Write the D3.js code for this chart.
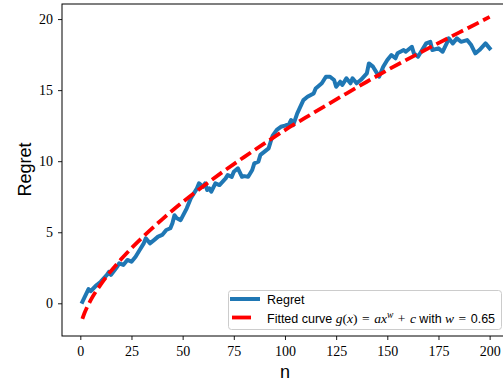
<!DOCTYPE html>
<html>
<head>
<meta charset="utf-8">
<script src="https://cdn.jsdelivr.net/npm/d3@7"></script>
<style>
  html, body { margin: 0; padding: 0; background: #fff; overflow: hidden; }
  svg { display: block; }
</style>
</head>
<body>
<div id="chart"></div>
<script>
// --- Data ---
const regretN = [1, 4, 5, 8, 10, 13, 14, 15, 18, 19, 21, 23, 25, 27, 29, 31, 32, 34, 36, 38,
  40, 42, 44, 45, 46, 47, 49, 52, 54, 57, 58, 60, 61, 62, 63, 64, 66, 68, 71, 72,
  74, 75, 77, 79, 80, 82, 84, 85, 87, 88, 90, 92, 93, 94, 96, 98, 100, 102, 103, 104,
  106, 109, 111, 114, 115, 118, 120, 122, 124, 125, 127, 128, 130, 132, 133, 135, 137, 140, 141, 143,
  145, 146, 148, 150, 152, 154, 155, 158, 159, 162, 163, 165, 167, 169, 171, 172, 175, 177, 179, 180,
  182, 184, 186, 189, 191, 193, 195, 198, 200];
const regretValues = [0.1, 1.0, 0.85, 1.29, 1.52, 2.0, 2.22, 2.0, 2.57, 2.81, 2.7, 3.05, 2.93, 3.28, 3.75, 4.22, 4.57, 4.22, 4.45, 4.69,
  4.81, 5.16, 5.28, 5.63, 6.2, 6.0, 5.85, 6.68, 7.39, 8.09, 8.44, 8.2, 8.44, 7.97, 8.09, 7.85, 8.44, 8.32, 8.79, 9.03,
  8.9, 9.26, 9.5, 8.9, 8.95, 8.9, 9.38, 9.85, 9.97, 10.44, 10.67, 10.9, 11.37, 11.8, 12.2, 12.42, 12.5, 12.61, 12.9, 12.54,
  13.37, 14.3, 14.53, 14.77, 15.12, 15.48, 15.94, 15.94, 15.71, 15.24, 15.59, 15.36, 15.83, 15.48, 15.83, 15.48, 15.71, 16.18, 16.88, 16.65,
  16.18, 15.94, 16.65, 17.12, 17.47, 17.24, 17.59, 17.82, 17.7, 18.05, 17.59, 17.35, 17.82, 18.29, 18.4, 17.82, 17.94, 17.7, 18.29, 18.64,
  18.29, 18.64, 18.4, 18.52, 18.17, 17.59, 17.82, 18.29, 17.94];

const fitN = [1, 2, 3, 5, 10, 20, 30, 40, 50, 60, 70, 80, 90, 100, 110, 120, 130, 140, 150, 160, 170, 180, 190, 200];
const fitValues = [-1.10, -0.70, -0.37, 0.20, 1.33, 3.11, 4.59, 5.91, 7.12, 8.23, 9.29, 10.29, 11.25, 12.19,
  13.06, 13.92, 14.76, 15.59, 16.41, 17.18, 17.94, 18.68, 19.41, 20.15];

const xTicks = [0, 25, 50, 75, 100, 125, 150, 175, 200];
const yTicks = [0, 5, 10, 15, 20];

// --- Constants ---
const WIDTH = 503;
const HEIGHT = 383;
const PLOT = { left: 62, top: 4, right: 510, bottom: 336 };
const BLUE = '#1f77b4';
const RED = '#ff0000';
const TICK_FONT = '"Liberation Serif", "DejaVu Serif", serif';
const LABEL_FONT = '"Liberation Sans", Arial, sans-serif';

const svg = d3.select('#chart').append('svg')
    .attr('width', WIDTH)
    .attr('height', HEIGHT);

// --- Scales ---
const x = d3.scaleLinear().domain([-8.95, 209.95]).range([PLOT.left, PLOT.right]);
const y = d3.scaleLinear().domain([-2.30, 21.06]).range([PLOT.bottom, PLOT.top]);

// --- Lines ---
svg.append('defs').append('clipPath').attr('id', 'plot-clip')
  .append('rect')
    .attr('x', PLOT.left).attr('y', PLOT.top)
    .attr('width', PLOT.right - PLOT.left).attr('height', PLOT.bottom - PLOT.top);

const plotLayer = svg.append('g').attr('clip-path', 'url(#plot-clip)');

const regretLine = d3.line()
    .x((d, i) => x(regretN[i]))
    .y(d => y(d));

plotLayer.append('path')
    .datum(regretValues)
    .attr('fill', 'none')
    .attr('stroke', BLUE)
    .attr('stroke-width', 4)
    .attr('stroke-linejoin', 'round')
    .attr('stroke-linecap', 'square')
    .attr('d', regretLine);

const fitLine = d3.line()
    .x((d, i) => x(fitN[i]))
    .y(d => y(d))
    .curve(d3.curveMonotoneX);

plotLayer.append('path')
    .datum(fitValues)
    .attr('fill', 'none')
    .attr('stroke', RED)
    .attr('stroke-width', 3.8)
    .attr('stroke-dasharray', '12.5,5')
    .attr('d', fitLine);

// --- Axes ---
const xAxis = d3.axisBottom(x).tickValues(xTicks).tickSize(4).tickPadding(6);
const yAxis = d3.axisLeft(y).tickValues(yTicks).tickSize(4).tickPadding(5);

const gx = svg.append('g')
    .attr('transform', `translate(0,${PLOT.bottom})`)
    .call(xAxis);
const gy = svg.append('g')
    .attr('transform', `translate(${PLOT.left},0)`)
    .call(yAxis);

[gx, gy].forEach(g => {
    g.select('.domain').remove();
    g.selectAll('.tick line').attr('stroke', '#000').attr('stroke-width', 0.9);
    g.selectAll('.tick text')
        .attr('fill', '#000')
        .style('font-family', TICK_FONT)
        .style('font-size', '14px');
});

// Spines (top, left, bottom; right spine sits beyond the window)
svg.append('rect')
    .attr('x', PLOT.left).attr('y', PLOT.top)
    .attr('width', PLOT.right - PLOT.left).attr('height', PLOT.bottom - PLOT.top)
    .attr('fill', 'none')
    .attr('stroke', '#000')
    .attr('stroke-width', 1);

// Axis labels
svg.append('text')
    .attr('x', 285).attr('y', 378)
    .attr('text-anchor', 'middle')
    .style('font-family', LABEL_FONT)
    .style('font-size', '18px')
    .text('n');

svg.append('text')
    .attr('transform', 'translate(30.5,169.5) rotate(-90)')
    .attr('text-anchor', 'middle')
    .style('font-family', LABEL_FONT)
    .style('font-size', '18px')
    .text('Regret');

// --- Legend ---
const legend = svg.append('g');
legend.append('rect')
    .attr('x', 228.5).attr('y', 290.5)
    .attr('width', 273).attr('height', 39)
    .attr('rx', 3)
    .attr('fill', '#fff').attr('fill-opacity', 0.8)
    .attr('stroke', '#cccccc').attr('stroke-width', 1);

legend.append('line')
    .attr('x1', 230).attr('x2', 260).attr('y1', 299).attr('y2', 299)
    .attr('stroke', BLUE).attr('stroke-width', 4);
legend.append('line')
    .attr('x1', 232).attr('x2', 251).attr('y1', 317.5).attr('y2', 317.5)
    .attr('stroke', RED).attr('stroke-width', 3.8);

legend.append('text')
    .attr('x', 267).attr('y', 304)
    .style('font-family', LABEL_FONT)
    .style('font-size', '12.5px')
    .text('Regret');

const fitText = legend.append('text')
    .attr('x', 267).attr('y', 322.5)
    .style('font-family', LABEL_FONT)
    .style('font-size', '12.5px');

// Math pieces use an italic serif, operators upright serif with wider spacing
const SP = '\u2004';
const parts = [
    { t: 'Fitted curve ' },
    { t: 'g', m: true }, { t: '(', s: true }, { t: 'x', m: true }, { t: `)${SP}=${SP}`, s: true },
    { t: 'ax', m: true }, { t: 'w', m: true, sup: true }, { t: `${SP}+${SP}`, s: true, down: true }, { t: 'c', m: true },
    { t: ' with ' },
    { t: 'w', m: true }, { t: `${SP}=${SP}`, s: true },
    { t: '0.65' }
];
parts.forEach(p => {
    const ts = fitText.append('tspan').text(p.t);
    if (p.m || p.s) {
        ts.style('font-family', TICK_FONT).style('font-size', '13.5px');
        if (p.m) ts.style('font-style', 'italic');
    }
    if (p.sup) ts.attr('dy', -5).style('font-size', '9.5px');
    if (p.down) ts.attr('dy', 5);
});
</script>
</body>
</html>
